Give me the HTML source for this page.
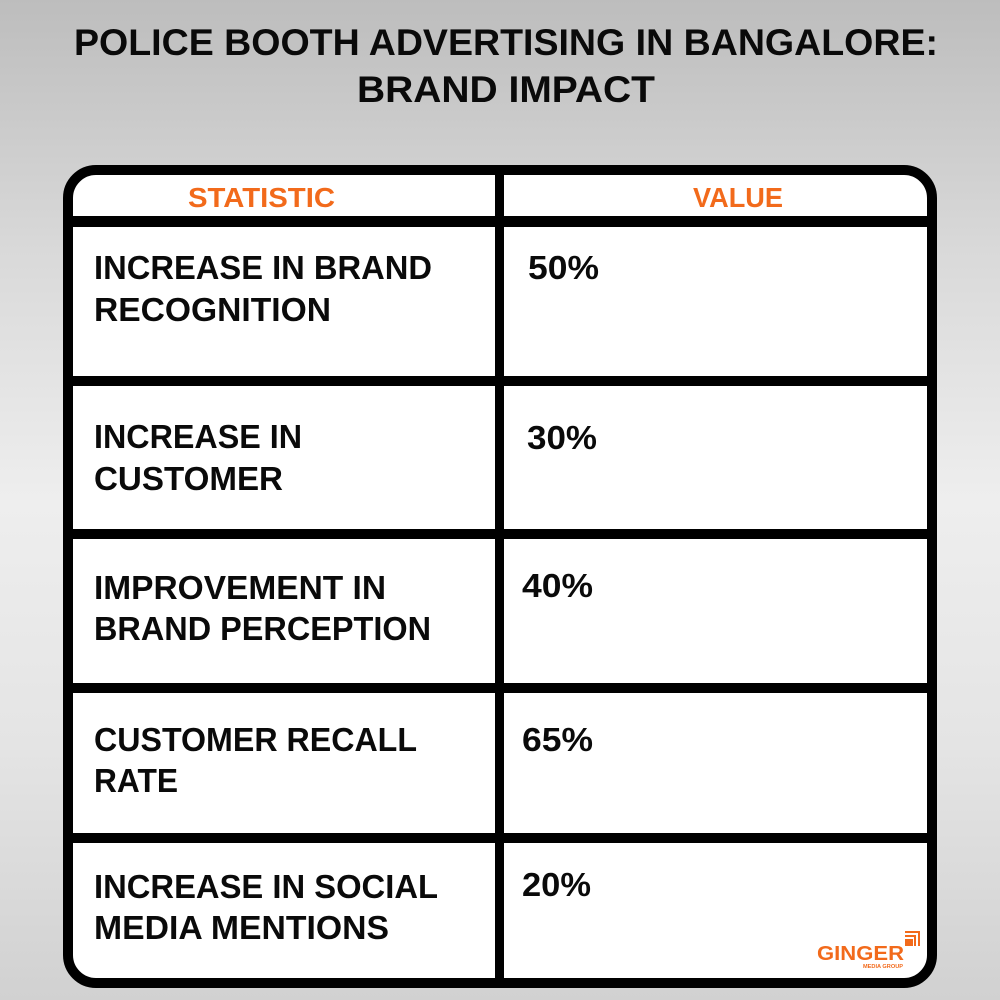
<!DOCTYPE html>
<html><head><meta charset="utf-8"><style>
html,body{margin:0;padding:0;width:1000px;height:1000px;overflow:hidden}
body{background:linear-gradient(180deg,#bdbdbd 0%,#d9d9d9 25%,#eeeeee 50%,#e4e4e4 75%,#d1d1d1 100%)}
svg{display:block}
text{font-family:"Liberation Sans",sans-serif;font-weight:bold}
</style></head><body>
<svg width="1000" height="1000" viewBox="0 0 1000 1000" xmlns="http://www.w3.org/2000/svg">
<text x="74" y="55" font-size="37" fill="#0a0a0a" textLength="864" lengthAdjust="spacingAndGlyphs">POLICE BOOTH ADVERTISING IN BANGALORE:</text>
<text x="357" y="102" font-size="37" fill="#0a0a0a" textLength="298" lengthAdjust="spacingAndGlyphs">BRAND IMPACT</text>

<rect x="68" y="170" width="864" height="813" rx="28" ry="28" fill="#ffffff" stroke="#000" stroke-width="10"/>
<line x1="68" y1="221.5" x2="932" y2="221.5" stroke="#000" stroke-width="11"/>
<line x1="68" y1="381" x2="932" y2="381" stroke="#000" stroke-width="10"/>
<line x1="68" y1="534" x2="932" y2="534" stroke="#000" stroke-width="10"/>
<line x1="68" y1="688" x2="932" y2="688" stroke="#000" stroke-width="10"/>
<line x1="68" y1="838" x2="932" y2="838" stroke="#000" stroke-width="10"/>
<line x1="499.5" y1="170" x2="499.5" y2="983" stroke="#000" stroke-width="9"/>

<text x="188" y="207" font-size="28" fill="#f26a1b" textLength="147" lengthAdjust="spacingAndGlyphs">STATISTIC</text>
<text x="693" y="207" font-size="28" fill="#f26a1b" textLength="90" lengthAdjust="spacingAndGlyphs">VALUE</text>

<g fill="#0a0a0a" font-size="33">
<text x="94" y="279" textLength="338" lengthAdjust="spacingAndGlyphs">INCREASE IN BRAND</text>
<text x="94" y="321" textLength="237" lengthAdjust="spacingAndGlyphs">RECOGNITION</text>
<text x="528" y="279" textLength="71" lengthAdjust="spacingAndGlyphs">50%</text>

<text x="94" y="448" textLength="208" lengthAdjust="spacingAndGlyphs">INCREASE IN</text>
<text x="94" y="490" textLength="189" lengthAdjust="spacingAndGlyphs">CUSTOMER</text>
<text x="527" y="449" textLength="70" lengthAdjust="spacingAndGlyphs">30%</text>

<text x="94" y="599" textLength="292" lengthAdjust="spacingAndGlyphs">IMPROVEMENT IN</text>
<text x="94" y="640" textLength="337" lengthAdjust="spacingAndGlyphs">BRAND PERCEPTION</text>
<text x="522" y="597" textLength="71" lengthAdjust="spacingAndGlyphs">40%</text>

<text x="94" y="751" textLength="323" lengthAdjust="spacingAndGlyphs">CUSTOMER RECALL</text>
<text x="94" y="792" textLength="84" lengthAdjust="spacingAndGlyphs">RATE</text>
<text x="522" y="751" textLength="71" lengthAdjust="spacingAndGlyphs">65%</text>

<text x="94" y="898" textLength="344" lengthAdjust="spacingAndGlyphs">INCREASE IN SOCIAL</text>
<text x="94" y="939" textLength="295" lengthAdjust="spacingAndGlyphs">MEDIA MENTIONS</text>
<text x="522" y="896" textLength="69" lengthAdjust="spacingAndGlyphs">20%</text>
</g>

<text x="817" y="960" font-size="20" fill="#f26a1b" textLength="87" lengthAdjust="spacingAndGlyphs">GINGER</text>
<text x="863" y="968" font-size="5" fill="#f26a1b" textLength="40" lengthAdjust="spacingAndGlyphs">MEDIA GROUP</text>
<g fill="#f26a1b">
<rect x="905" y="939" width="8" height="7"/>
<rect x="905" y="931" width="15" height="2"/>
<rect x="905" y="935" width="11" height="2"/>
<rect x="918" y="931" width="2" height="15"/>
<rect x="914" y="935" width="2" height="11"/>
</g>
</svg>
</body></html>
